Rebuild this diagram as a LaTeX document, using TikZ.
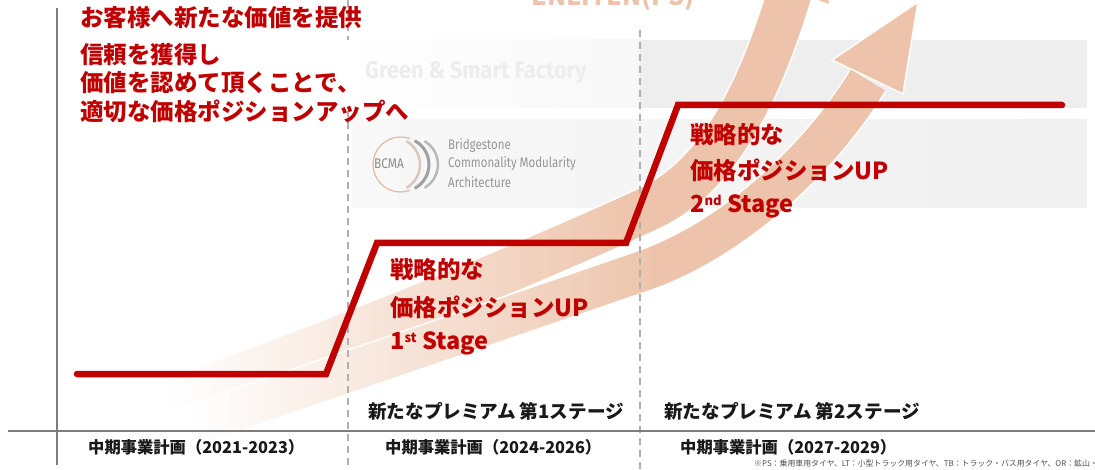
\documentclass[tikz,border=0pt]{standalone}
\usepackage{fontspec}
\usepackage{graphicx}
\newfontfamily\jp{Noto Sans CJK JP}
\newfontfamily\fira{Fira Sans}

\definecolor{bsred}{RGB}{192,0,0}
\definecolor{peach}{RGB}{237,196,171}
\definecolor{axisgray}{RGB}{125,125,125}
\definecolor{dashgray}{RGB}{175,175,175}
\definecolor{labelblack}{RGB}{25,25,25}
\definecolor{bandgray}{RGB}{238,238,238}
\definecolor{bandlight}{RGB}{248,248,248}
\definecolor{logogray}{RGB}{150,150,150}
\definecolor{logopeach}{RGB}{226,190,168}

\tikzset{
  redtext/.style={text=bsred, font=\jp\bfseries\fontsize{23.5}{28}\selectfont, inner sep=0pt, anchor=west},
  stagelabel/.style={text=labelblack, font=\jp\bfseries\fontsize{18.6}{20}\selectfont, inner sep=0pt, anchor=west},
  planlabel/.style={text=labelblack, font=\jp\bfseries\fontsize{16.3}{18}\selectfont, inner sep=0pt, anchor=west},
  stepline/.style={draw=bsred, line width=6.5pt, line cap=round, line join=miter},
  axisline/.style={draw=axisgray, line width=2pt},
  stagedash/.style={draw=dashgray, line width=1.2pt, dash pattern=on 7pt off 5pt},
  arrowhead/.style={fill=peach, draw=white, line width=1.5pt, line join=miter},
  logotext/.style={text=logogray, font=\fira\fontsize{14}{16}\selectfont, inner sep=0pt, anchor=west},
  % centre lines of the two growth arrows
  upperarrow/.style={insert path={(120,418) .. controls (350,340) and (560,250) .. (650,208)
      .. controls (720,175) and (760,90) .. (790,-8)}},
  lowerarrow/.style={insert path={(150,440) -- (640,272) .. controls (730,242) and (820,160) .. (868,80)}},
}

\begin{document}
\begin{tikzpicture}[x=1pt, y=-1pt]
\useasboundingbox (0,0) rectangle (1095,470);
\clip (0,0) rectangle (1095,470);
\fill[white] (0,0) rectangle (1095,470);

% background bands
\shade[left color=white, right color=white!97!black] (338,40) rectangle (640,108);
\fill[bandgray] (640,40) rectangle (1087,108);
\shade[left color=bandlight, right color=white!94!black] (352,120) rectangle (1087,208);

\node[text=white!93!black, font=\fira\bfseries\fontsize{24}{26}\selectfont, inner sep=0pt, anchor=west]
  (gsf) at (365,73) {\scalebox{0.9}[1]{Green \& Smart Factory}};

% BCMA logo
\draw[logopeach, line width=1.3pt] (400.5,164.5) ++(70:27.5) arc[start angle=70, end angle=290, radius=27.5];
\draw[color={rgb,255:red,215;green,200;blue,190}, line width=2.5pt] (393,164.5) ++(-60:27) arc[start angle=-60, end angle=60, radius=27];
\draw[color={rgb,255:red,160;green,160;blue,160}, line width=3pt] (402,164.5) ++(-62:27) arc[start angle=-62, end angle=62, radius=27];
\draw[color={rgb,255:red,185;green,185;blue,185}, line width=2.5pt] (411,164.5) ++(-60:27) arc[start angle=-60, end angle=60, radius=27];
\node[logotext, anchor=center, text={rgb,255:red,140;green,140;blue,140}] (bcma) at (389,164) {\scalebox{0.85}[1]{BCMA}};
\node[logotext] (bcm1) at (448,146) {\scalebox{0.82}[1]{Bridgestone}};
\node[logotext] (bcm2) at (448,164) {\scalebox{0.82}[1]{Commonality Modularity}};
\node[logotext] (bcm3) at (448,182) {\scalebox{0.82}[1]{Architecture}};

% heading partly above the top edge
\node[text=peach, font=\jp\bfseries\fontsize{25}{25}\selectfont, inner sep=0pt, anchor=base]
  (enl) at (613,6) {ENLITEN(PS)};

% growth arrows: drawn in vertical strips that blend from white into peach
\foreach \xa in {100,110,...,640} {
  \pgfmathsetmacro\pct{max(0,min(100,(\xa+5-170)/(640-170)*100))}
  \begin{scope}
    \clip (\xa,-120) rectangle (\xa+10.5,500);
    \draw[white, line width=47pt, upperarrow];
    \draw[peach!\pct!white, line width=44pt, upperarrow];
  \end{scope}
}
\begin{scope}
  \clip (650,-120) rectangle (1095,500);
  \draw[white, line width=47pt, upperarrow];
  \filldraw[arrowhead] (750,-22) -- (830,5) -- (816,-90) -- cycle;
  \draw[peach, line width=44pt, upperarrow];
\end{scope}

\foreach \xa in {120,130,...,640} {
  \pgfmathsetmacro\pct{max(0,min(100,(\xa+5-190)/(660-190)*100))}
  \begin{scope}
    \clip (\xa,-120) rectangle (\xa+10.5,500);
    \draw[white, line width=43pt, lowerarrow];
    \draw[peach!\pct!white, line width=40pt, lowerarrow];
  \end{scope}
}
\begin{scope}
  \clip (650,-120) rectangle (1095,500);
  \draw[white, line width=43pt, lowerarrow];
  \filldraw[arrowhead] (832,60) -- (918,2) -- (903,94) -- cycle;
  \draw[peach, line width=40pt, lowerarrow];
\end{scope}

% stage dividers and axes
\draw[stagedash] (348,0) -- (348,40);
\draw[stagedash] (348,110) -- (348,470);
\draw[stagedash] (640,30) -- (640,470);
\draw[axisline] (57,8) -- (57,465);
\draw[axisline] (8,431) -- (1095,431);

% price position steps
\draw[stepline] (77,374) -- (326,374) -- (377,243) -- (626,243) -- (678,105) -- (1062,105);

% headline
\node[redtext] (h1) at (80,18) {お客様へ新たな価値を提供};
\node[redtext] (h2) at (80,55) {信頼を獲得し};
\node[redtext] (h3) at (80,83) {価値を認めて頂くことで、};
\node[redtext] (h4) at (80,111) {適切な価格ポジションアップへ};

% stage captions
\node[redtext] (s1a) at (390,270) {戦略的な};
\node[redtext] (s1b) at (390,307) {価格ポジションUP};
\node[redtext] (s1c) at (390,343) {1\raisebox{7pt}{\fontsize{13}{13}\selectfont st}~Stage};
\node[redtext] (s2a) at (690,135) {戦略的な};
\node[redtext] (s2b) at (690,170) {価格ポジションUP};
\node[redtext] (s2c) at (690,206) {2\raisebox{7pt}{\fontsize{13}{13}\selectfont nd}~Stage};

% timeline labels
\node[stagelabel] (p1) at (368,411) {新たなプレミアム 第1ステージ};
\node[stagelabel] (p2) at (664,411) {新たなプレミアム 第2ステージ};
\node[planlabel] (m1) at (88,447) {中期事業計画（2021-2023）};
\node[planlabel] (m2) at (385,447) {中期事業計画（2024-2026）};
\node[planlabel] (m3) at (680,447) {中期事業計画（2027-2029）};

\node[text={rgb,255:red,80;green,80;blue,80}, font=\jp\fontsize{7.9}{8}\selectfont, inner sep=0pt, anchor=west]
  (note) at (754,464) {※PS：乗用車用タイヤ、LT：小型トラック用タイヤ、TB：トラック・バス用タイヤ、OR：鉱山・建設車両用タイヤ};
\end{tikzpicture}
\end{document}
